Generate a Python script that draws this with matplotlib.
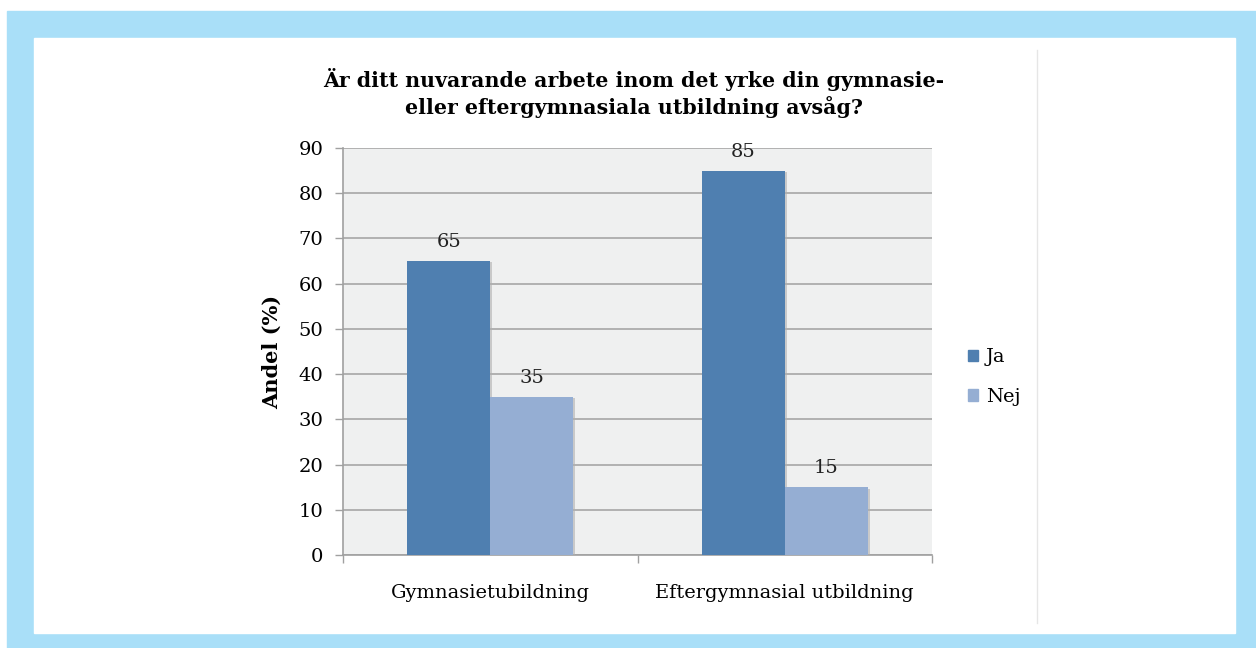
import matplotlib
matplotlib.use("Agg")
import matplotlib.pyplot as plt
import matplotlib.patches as mpatches
import matplotlib.patheffects as pe
import numpy as np

categories = ["Gymnasietubildning", "Eftergymnasial utbildning"]
ja = [65, 85]
nej = [35, 15]
series_names = ["Ja", "Nej"]
colors = ["#4f7fb0", "#95aed3"]
yticks = [0, 10, 20, 30, 40, 50, 60, 70, 80, 90]

W, H = 1256, 648
plt.rcParams['font.family'] = ['DejaVu Serif']

fig = plt.figure(figsize=(W / 100, H / 100), dpi=100, facecolor="white")

# light blue frame with white card inside
fig.patches.append(mpatches.Rectangle((7 / W, 0), 1 - 7 / W, 1 - 11 / H,
                                      transform=fig.transFigure, color="#a9dff8", zorder=-3))
fig.patches.append(mpatches.Rectangle((34 / W, 15 / H), (1235 - 34) / W, (633 - 38) / H,
                                      transform=fig.transFigure, color="white", zorder=-2))
fig.lines.append(plt.Line2D([1037 / W, 1037 / W], [1 - 623 / H, 1 - 50 / H],
                            transform=fig.transFigure, color="#e6e6e6", lw=1, zorder=-1))

ax = fig.add_axes([343 / W, 1 - 555 / H, (932 - 343) / W, (555 - 148) / H])
ax.set_zorder(2)
ax.set_facecolor("#eff0f0")

x = np.arange(len(categories))
w = 0.282
shadow = [pe.SimplePatchShadow(offset=(1.5, -1), shadow_rgbFace="#b0b0b0", alpha=0.6), pe.Normal()]
b1 = ax.bar(x - w / 2, ja, w, color=colors[0], zorder=3, path_effects=shadow)
b2 = ax.bar(x + w / 2, nej, w, color=colors[1], zorder=3, path_effects=shadow)

for bars in (b1, b2):
    for r in bars:
        ax.text(r.get_x() + r.get_width() / 2, r.get_height() + 3.1, f"{r.get_height():.0f}",
                ha="center", va="baseline", fontsize=14, color="#222222")

ax.set_xlim(-0.5, 1.5)
ax.set_ylim(0, 90)
ax.set_yticks(yticks)
ax.set_yticklabels([str(t) for t in yticks], fontsize=14)
ax.yaxis.grid(True, color="#a6a6a6", lw=1.2, zorder=1)
ax.set_axisbelow(True)
ax.tick_params(axis="y", length=6, width=1, color="#a0a0a0", pad=8)

ax.set_xticks([-0.5, 0.5, 1.5])
ax.set_xticklabels([])
ax.set_xticks(x, minor=True)
ax.set_xticklabels(categories, minor=True, fontsize=14)
ax.tick_params(axis="x", which="major", length=6, width=1, color="#a0a0a0")
ax.tick_params(axis="x", which="minor", length=0, pad=21)

for s in ["top", "right"]:
    ax.spines[s].set_visible(False)
for s in ["left", "bottom"]:
    ax.spines[s].set_color("#a0a0a0")
    ax.spines[s].set_linewidth(1.2)

ax.set_ylabel("Andel (%)", fontsize=15, fontweight="bold", labelpad=12)

fig.text(634 / W, 1 - 93 / H, "Är ditt nuvarande arbete inom det yrke din gymnasie-\neller eftergymnasiala utbildning avsåg?",
         ha="center", va="center", fontsize=14.8, fontweight="bold", linespacing=1.3)

handles = [mpatches.Patch(color=c) for c in colors]
fig.legend(handles=handles, labels=series_names, loc="center left",
           bbox_to_anchor=(950 / W, 1 - 377 / H), frameon=False, fontsize=14,
           handlelength=0.55, handleheight=0.55, handletextpad=0.4, labelspacing=1.1)

fig.savefig("out.png", dpi=100, facecolor=fig.get_facecolor())
